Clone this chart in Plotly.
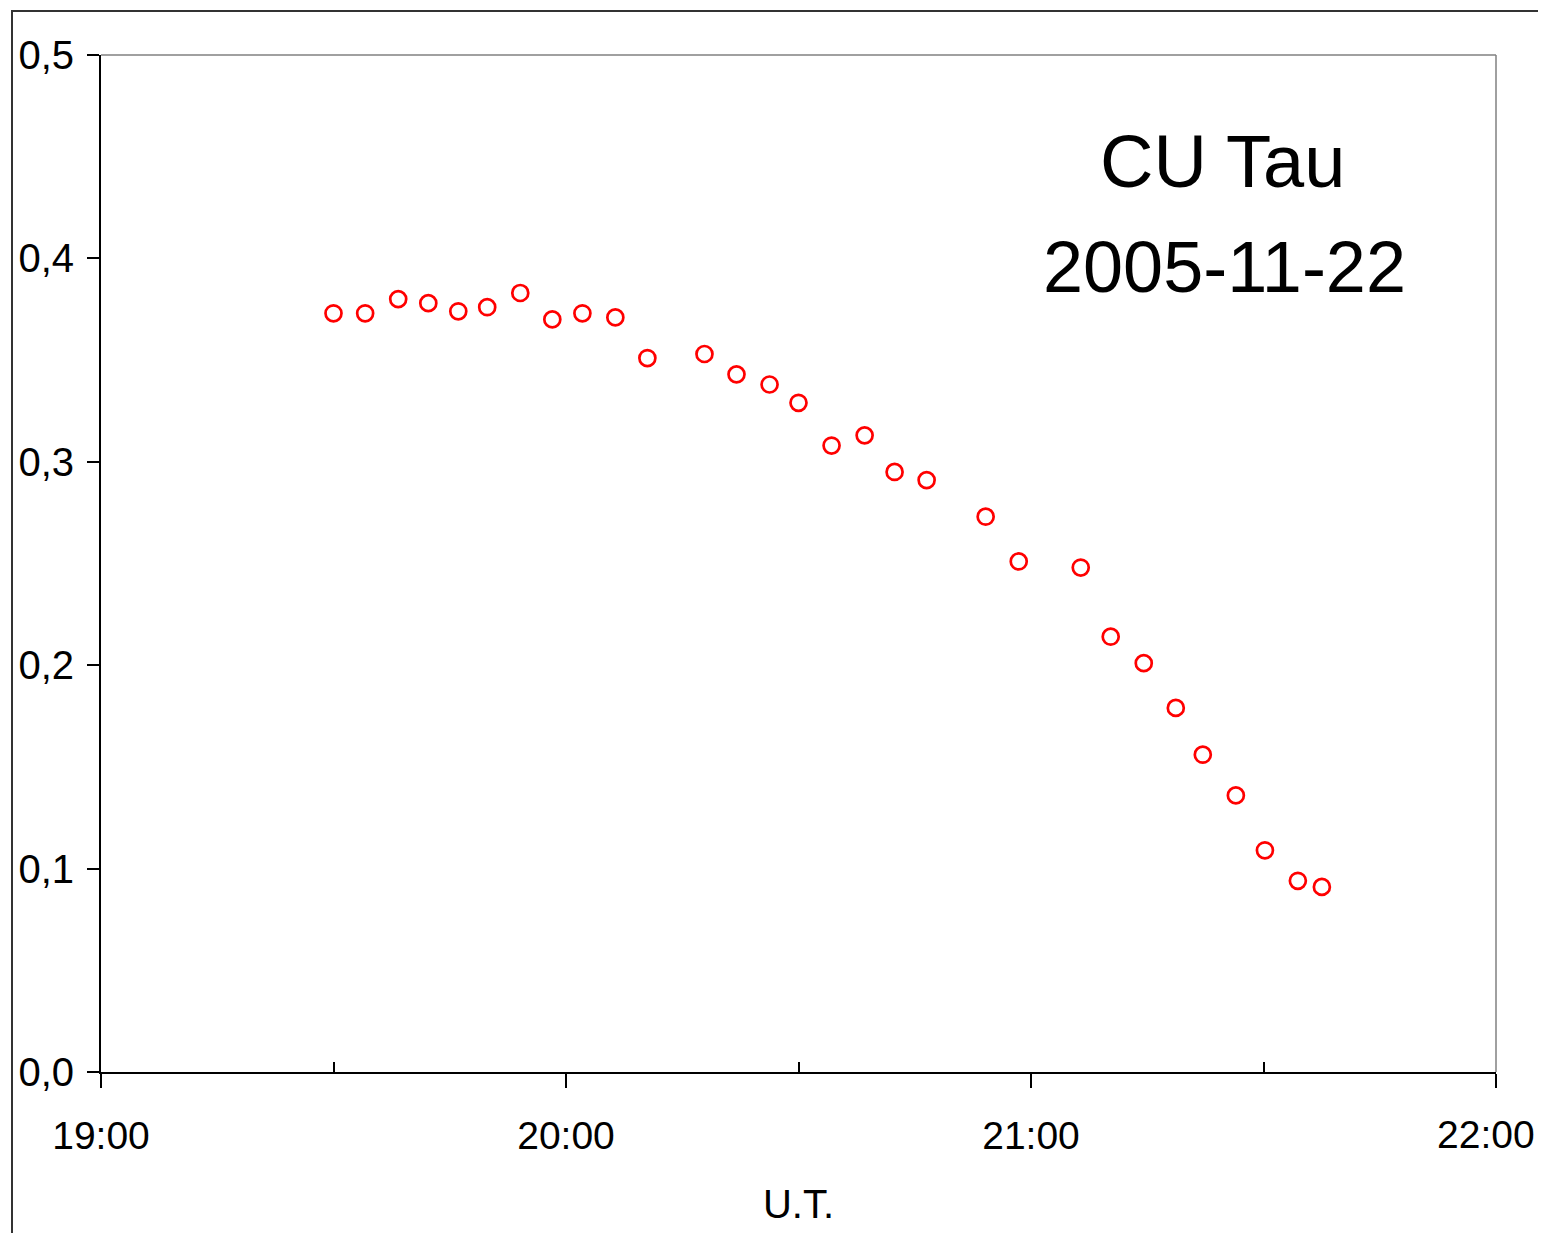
import plotly.graph_objects as go

# Observation times (U.T.) on 2005-11-22
times = ["19:30:00", "19:34:05", "19:38:21", "19:42:14", "19:46:06", "19:49:50",
         "19:54:06", "19:58:14", "20:02:07", "20:06:22", "20:10:30", "20:17:52",
         "20:22:00", "20:26:16", "20:30:00", "20:34:16", "20:38:32", "20:42:24",
         "20:46:32", "20:54:09", "20:58:25", "21:06:25", "21:10:17", "21:14:33",
         "21:18:41", "21:22:10", "21:26:26", "21:30:11", "21:34:26", "21:37:32"]
values = [0.373, 0.373, 0.380, 0.378, 0.374, 0.376, 0.383, 0.370, 0.373, 0.371,
          0.351, 0.353, 0.343, 0.338, 0.329, 0.308, 0.313, 0.295, 0.291, 0.273,
          0.251, 0.248, 0.214, 0.201, 0.179, 0.156, 0.136, 0.109, 0.094, 0.091]
date = "2005-11-22"
x_ticks = ["19:00", "20:00", "21:00", "22:00"]
x_minor_ticks = ["19:30", "20:30", "21:30"]
y_ticks = [0.0, 0.1, 0.2, 0.3, 0.4, 0.5]
y_ticktext = ["0,0", "0,1", "0,2", "0,3", "0,4", "0,5"]
title_lines = ["CU Tau", "2005-11-22"]
x_title = "U.T."

FONT = "Liberation Sans, Arial, sans-serif"

x = [f"{date} {t}" for t in times]
x_tickvals = [f"{date} {t}" for t in x_ticks]

fig = go.Figure()
fig.add_trace(go.Scatter(
    x=x, y=values, mode="markers",
    marker=dict(symbol="circle-open", size=16, color="#ff0000",
                line=dict(color="#ff0000", width=2.7)),
    showlegend=False, hoverinfo="x+y"))

# page has 8px body margin -> figure is 16px smaller and shifted by 8px
W, H = 1530, 1225
L, T = 93, 47
pw, ph = 1395, 1017
R = W - L - pw
B = H - T - ph


def px(xp):
    return (xp - L) / pw


def py(yp):
    return (H - B - yp) / ph


# last tick label is drawn as an annotation nudged left so it is not clipped
tick_text = x_ticks[:-1] + [""]

fig.update_layout(
    template="none",
    width=W, height=H,
    margin=dict(l=L, r=R, t=T, b=B, pad=0, autoexpand=False),
    paper_bgcolor="white", plot_bgcolor="white",
    font=dict(family=FONT, color="black", size=40),
    xaxis=dict(
        type="date", automargin=False,
        range=[x_tickvals[0], x_tickvals[-1]],
        tickmode="array", tickvals=x_tickvals, ticktext=tick_text,
        ticks="outside", ticklen=14, tickwidth=1.5, tickcolor="black",
        ticklabelstandoff=14,
        showline=True, linecolor="black", linewidth=2,
        showgrid=False, zeroline=False,
        minor=dict(ticks="inside", ticklen=10, tickwidth=1.5, tickcolor="black",
                   tickvals=[f"{date} {t}" for t in x_minor_ticks], showgrid=False),
        tickfont=dict(size=39, family=FONT),
        title=dict(text=x_title, font=dict(size=40, family=FONT), standoff=34),
        fixedrange=True,
    ),
    yaxis=dict(
        automargin=False,
        range=[y_ticks[0], y_ticks[-1]],
        tickmode="array", tickvals=y_ticks, ticktext=y_ticktext,
        ticks="outside", ticklen=12, tickwidth=1.5, tickcolor="black",
        ticklabelstandoff=5,
        showline=True, linecolor="black", linewidth=2,
        showgrid=False, zeroline=False,
        tickfont=dict(size=40, family=FONT),
        fixedrange=True,
    ),
    annotations=[
        dict(text=title_lines[0], xref="paper", yref="paper",
             x=px(1214), y=py(153), xanchor="center", yanchor="middle",
             showarrow=False, font=dict(size=74, family=FONT, color="black")),
        dict(text=title_lines[1], xref="paper", yref="paper",
             x=px(1216), y=py(259), xanchor="center", yanchor="middle",
             showarrow=False, font=dict(size=72, family=FONT, color="black")),
        dict(text=x_ticks[-1], xref="x", yref="paper",
             x=x_tickvals[-1], y=py(1126), xanchor="center", yanchor="middle",
             xshift=-10, showarrow=False,
             font=dict(size=39, family=FONT, color="black")),
    ],
    shapes=[
        # plot box top and right (gray)
        dict(type="line", xref="paper", yref="paper", x0=0, x1=1, y0=1, y1=1,
             line=dict(color="#808080", width=1.5)),
        dict(type="line", xref="paper", yref="paper", x0=1, x1=1, y0=0, y1=1,
             line=dict(color="#808080", width=1.5)),
        # outer chart frame (cut at right and bottom)
        dict(type="path", xref="paper", yref="paper",
             path=(f"M {px(4)},{py(H + 10)} "
                   f"L {px(4)},{py(3)} "
                   f"L {px(W + 10)},{py(3)}"),
             line=dict(color="#333333", width=2)),
    ],
)

fig.write_html("out.html")
